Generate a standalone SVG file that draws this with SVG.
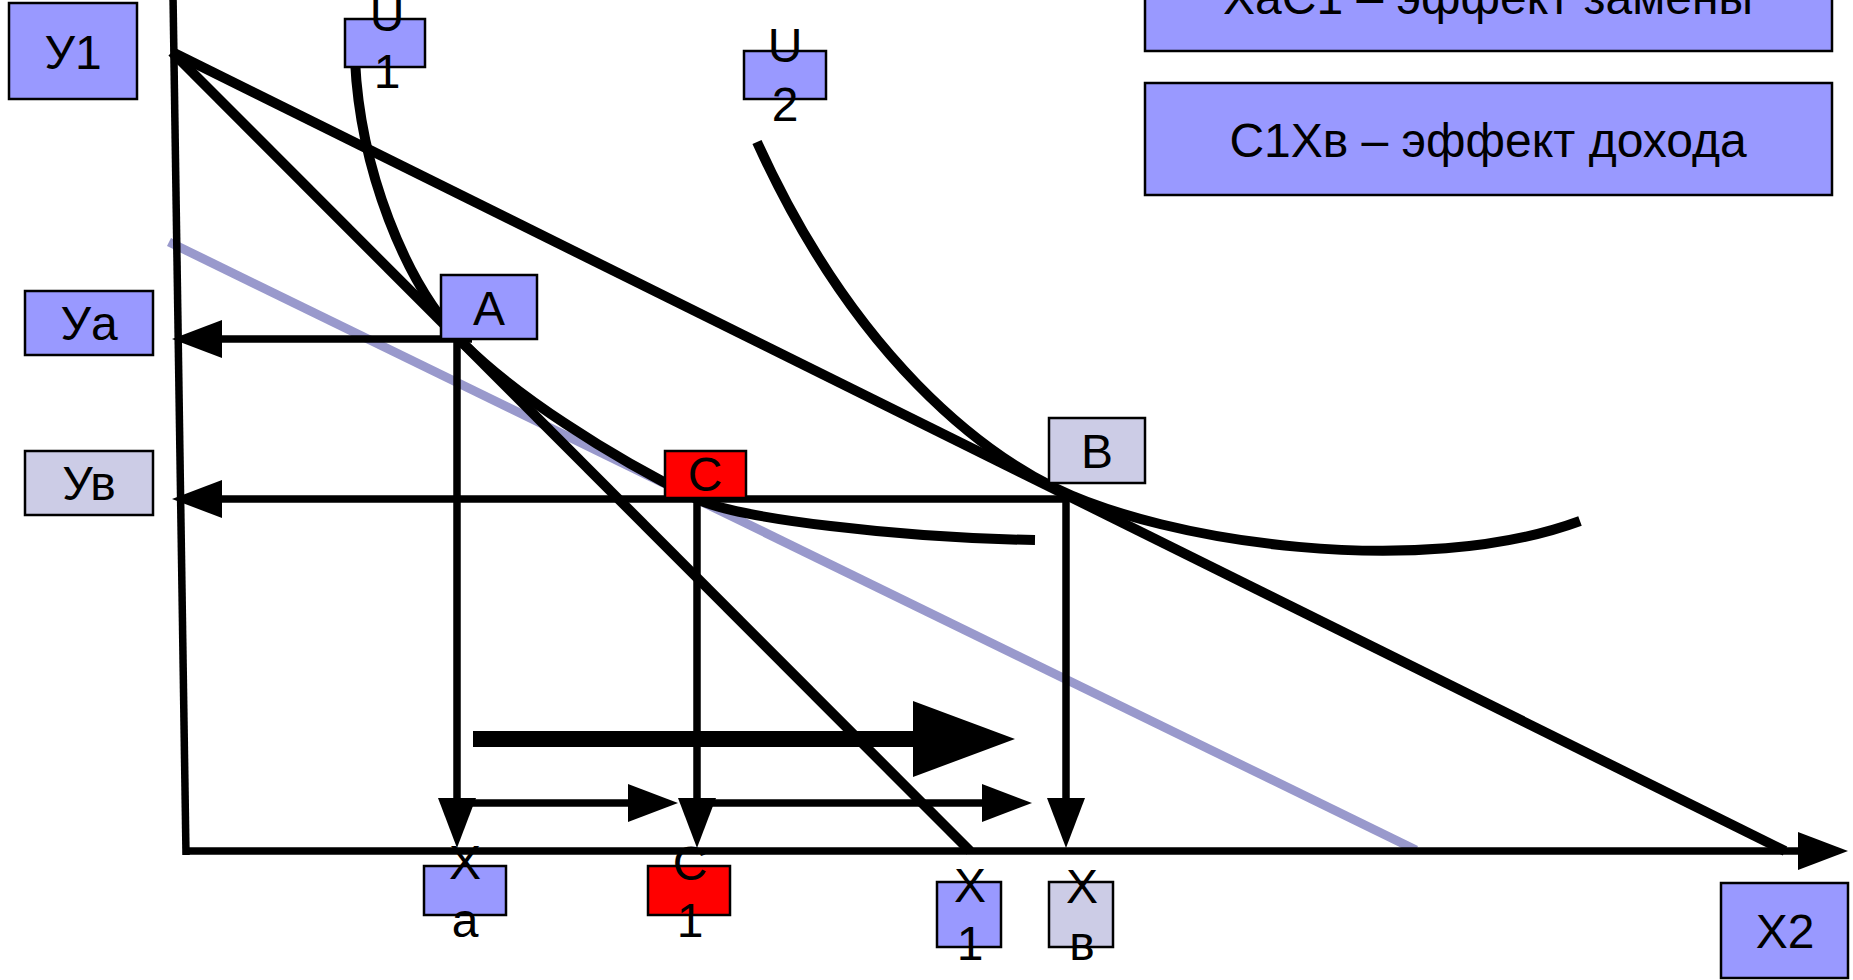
<svg xmlns="http://www.w3.org/2000/svg" width="1853" height="980" viewBox="0 0 1853 980">
<style>
.lbl{font-family:"Liberation Sans",Arial,sans-serif;font-size:48px;text-anchor:middle;fill:#000}
.bx{stroke:#000;stroke-width:2.5}
.blue{fill:#9999FF}
.pale{fill:#CCCCE6}
.red{fill:#FF0000}
.ln{fill:none;stroke:#000;stroke-width:10}
.ar{fill:none;stroke:#000;stroke-width:7.5}
</style>
<defs>
<marker id="ah" markerUnits="userSpaceOnUse" viewBox="0 0 50 38" markerWidth="50" markerHeight="38" refX="2" refY="19" orient="auto"><path d="M0,0 L50,19 L0,38 z" fill="#000"/></marker>
<marker id="ahBig" markerUnits="userSpaceOnUse" viewBox="0 0 102 76" markerWidth="102" markerHeight="76" refX="4" refY="38" orient="auto"><path d="M0,0 L102,38 L0,76 z" fill="#000"/></marker>
</defs>
<rect width="1853" height="980" fill="#fff"/>
<g id="connectors">
<path d="M169,242 L1416,850" fill="none" stroke="#9999CC" stroke-width="9"/>
<path class="ar" d="M173,-5 L186,855"/>
<path class="ar" d="M186,851 H1800" marker-end="url(#ah)"/>
<path class="ln" d="M172,52 L1785,851"/>
<path class="ln" d="M172,52 L970,851"/>
<path class="ln" d="M355,60 C360,167 404,284 464,344 C514,394 607,455 697,499 C737,518.5 900,538 1035,540"/>
<path class="ln" d="M757,142 C857,362 985,453 1055,488 C1165,542 1420,580 1580,521"/>
<path class="ar" d="M472,339 H220" marker-end="url(#ah)"/>
<path class="ar" d="M1066,499 H220" marker-end="url(#ah)"/>
<path class="ar" d="M457,339 V800" marker-end="url(#ah)"/>
<path class="ar" d="M697,499 V800" marker-end="url(#ah)"/>
<path class="ar" d="M1066,499 V800" marker-end="url(#ah)"/>
<path class="ar" d="M460,803 H630" marker-end="url(#ah)"/>
<path class="ar" d="M700,803 H984" marker-end="url(#ah)"/>
<path fill="none" stroke="#000" stroke-width="16" d="M473,739 H917" marker-end="url(#ahBig)"/>
</g>
<g id="node-y1"><rect class="bx blue" x="9" y="3" width="128" height="96"/><text class="lbl" x="73" y="69">У1</text></g>
<g id="node-u1"><rect class="bx blue" x="345" y="19" width="80" height="48"/><text class="lbl" x="387" y="31">U</text><text class="lbl" x="387" y="88">1</text></g>
<g id="node-u2"><rect class="bx blue" x="744" y="51" width="82" height="48"/><text class="lbl" x="785" y="62">U</text><text class="lbl" x="785" y="121">2</text></g>
<g id="node-legend1"><rect class="bx blue" x="1145" y="-61" width="687" height="112"/><text class="lbl" x="1488" y="14">ХаС1 – эффект замены</text></g>
<g id="node-legend2"><rect class="bx blue" x="1145" y="83" width="687" height="112"/><text class="lbl" x="1488" y="157">С1Хв – эффект дохода</text></g>
<g id="node-ya"><rect class="bx blue" x="25" y="291" width="128" height="64"/><text class="lbl" x="89" y="340">Уа</text></g>
<g id="node-yb"><rect class="bx pale" x="25" y="451" width="128" height="64"/><text class="lbl" x="89" y="500">Ув</text></g>
<g id="node-a"><rect class="bx blue" x="441" y="275" width="96" height="64"/><text class="lbl" x="489" y="325">А</text></g>
<g id="node-c"><rect class="bx red" x="665" y="451" width="81" height="47"/><text class="lbl" x="705" y="491">С</text></g>
<g id="node-b"><rect class="bx pale" x="1049" y="418" width="96" height="65"/><text class="lbl" x="1097" y="468">В</text></g>
<g id="node-xa"><rect class="bx blue" x="424" y="866" width="82" height="49"/><text class="lbl" x="465" y="879">Х</text><text class="lbl" x="465" y="937">а</text></g>
<g id="node-c1"><rect class="bx red" x="648" y="866" width="82" height="49"/><text class="lbl" x="690" y="880">С</text><text class="lbl" x="690" y="937">1</text></g>
<g id="node-x1"><rect class="bx blue" x="937" y="882" width="64" height="65"/><text class="lbl" x="970" y="902">Х</text><text class="lbl" x="970" y="960">1</text></g>
<g id="node-xb"><rect class="bx pale" x="1049" y="882" width="64" height="65"/><text class="lbl" x="1082" y="903">Х</text><text class="lbl" x="1082" y="960">в</text></g>
<g id="node-x2"><rect class="bx blue" x="1721" y="883" width="127" height="95"/><text class="lbl" x="1785" y="948">Х2</text></g>
</svg>
